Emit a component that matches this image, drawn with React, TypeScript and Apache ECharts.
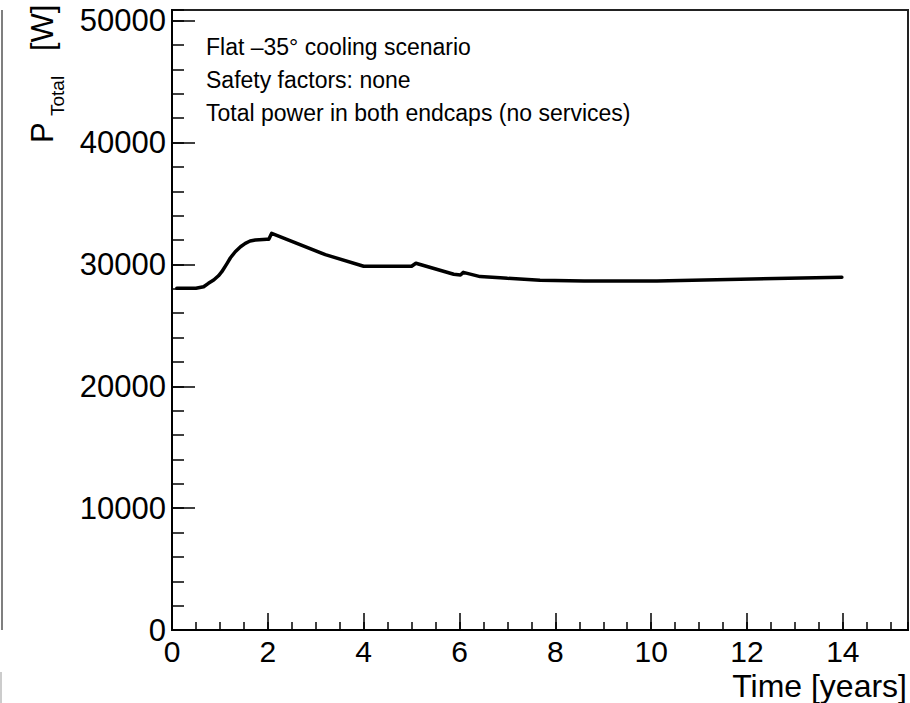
import React, { useEffect, useRef } from "react";
import * as echarts from "echarts";

const timeYears = [0.1, 0.5, 0.66, 0.76, 0.87, 0.97, 1.04, 1.15, 1.22, 1.32, 1.43, 1.53, 1.63, 1.74, 1.98, 2.02, 2.08, 3.2, 4.0, 5.0, 5.09, 5.88, 6.02, 6.08, 6.43, 6.85, 7.0, 7.68, 8.6, 10.12, 11.86, 13.98];
const powerW = [28040, 28050, 28170, 28450, 28720, 29070, 29400, 30090, 30550, 31040, 31450, 31730, 31920, 32000, 32060, 32060, 32550, 30800, 29850, 29850, 30100, 29190, 29130, 29350, 29000, 28910, 28860, 28700, 28650, 28640, 28780, 28950];

const noteLines = [
  "Flat \u201335\u00b0 cooling scenario",
  "Safety factors: none",
  "Total power in both endcaps (no services)",
];
const xTitle = "Time [years]";

const FONT = "'Liberation Sans', Arial, Helvetica, sans-serif";

export default function App() {
  const ref = useRef<HTMLDivElement>(null);
  useEffect(() => {
    if (!ref.current) return;
    const chart = echarts.init(ref.current, null, { renderer: "svg" });
    const axisBase = {
      type: "value" as const,
      splitLine: { show: false },
    };
    chart.setOption({
      animation: false,
      backgroundColor: "#fff",
      grid: {
        left: 172,
        right: 2,
        top: 10,
        bottom: 73,
        show: true,
        borderColor: "#222",
        borderWidth: 2,
        backgroundColor: "transparent",
      },
      xAxis: [
        {
          ...axisBase,
          min: 0,
          max: 15.36,
          interval: 2,
          position: "bottom",
          axisLine: { show: true, lineStyle: { color: "#000", width: 2 } },
          axisTick: { show: true, inside: true, length: 17, lineStyle: { color: "#000", width: 1.5 } },
          axisLabel: { showMaxLabel: false, fontSize: 30, color: "#000", fontFamily: FONT, margin: 6, formatter: (v: number) => String(v) },
        },
        {
          ...axisBase,
          min: 0,
          max: 15.36,
          interval: 0.5,
          position: "bottom",
          axisLine: { show: false },
          axisTick: { show: true, inside: true, length: 8, lineStyle: { color: "#000", width: 1.5 } },
          axisLabel: { show: false },
        },
      ],
      yAxis: [
        {
          ...axisBase,
          min: 0,
          max: 50880,
          interval: 10000,
          position: "left",
          axisLine: { show: true, lineStyle: { color: "#000", width: 2 } },
          axisTick: { show: true, inside: true, length: 23, lineStyle: { color: "#000", width: 1.5 } },
          axisLabel: { showMaxLabel: false, fontSize: 31, color: "#000", fontFamily: FONT, margin: 6, formatter: (v: number) => String(v) },
        },
        {
          ...axisBase,
          min: 0,
          max: 50880,
          interval: 2000,
          position: "left",
          axisLine: { show: false },
          axisTick: { show: true, inside: true, length: 12, lineStyle: { color: "#000", width: 1.5 } },
          axisLabel: { show: false },
        },
      ],
      series: [
        {
          type: "line",
          xAxisIndex: 0,
          yAxisIndex: 0,
          data: timeYears.map((t, i) => [t, powerW[i]]),
          showSymbol: false,
          symbol: "none",
          lineStyle: { color: "#000", width: 3.5, join: "round", cap: "round" },
          silent: true,
        },
      ],
      graphic: [
        { type: "line", shape: { x1: 2, y1: 10, x2: 2, y2: 630 }, style: { stroke: "#555", lineWidth: 1.5 } },
        { type: "line", shape: { x1: 1, y1: 672, x2: 1, y2: 703 }, style: { stroke: "#bbb", lineWidth: 1.5 } },
        ...noteLines.map((s, i) => ({
          type: "text",
          x: 206,
          y: 46.7 + i * 33,
          style: { text: s, fontSize: 23, fontFamily: FONT, fill: "#000", textAlign: "left", textVerticalAlign: "middle" },
        })),
        {
          type: "text",
          x: 907,
          y: 686,
          style: { text: xTitle, fontSize: 32, fontFamily: FONT, fill: "#000", textAlign: "right", textVerticalAlign: "middle" },
        },
        {
          type: "group",
          x: 42.5,
          y: 143,
          rotation: Math.PI / 2,
          children: [
            { type: "text", x: 0, y: 0, style: { text: "P", fontSize: 31, fontFamily: FONT, fill: "#000", textAlign: "left", textVerticalAlign: "middle" } },
            { type: "text", x: 27, y: 14.5, style: { text: "Total", fontSize: 19, fontFamily: FONT, fill: "#000", textAlign: "left", textVerticalAlign: "middle" } },
            { type: "text", x: 92, y: 0, style: { text: "[W]", fontSize: 31, fontFamily: FONT, fill: "#000", textAlign: "left", textVerticalAlign: "middle" } },
          ],
        },
      ],
    });
    return () => chart.dispose();
  }, []);
  return <div ref={ref} style={{ position: "fixed", left: 0, top: 0, width: 910, height: 703 }} />;
}
